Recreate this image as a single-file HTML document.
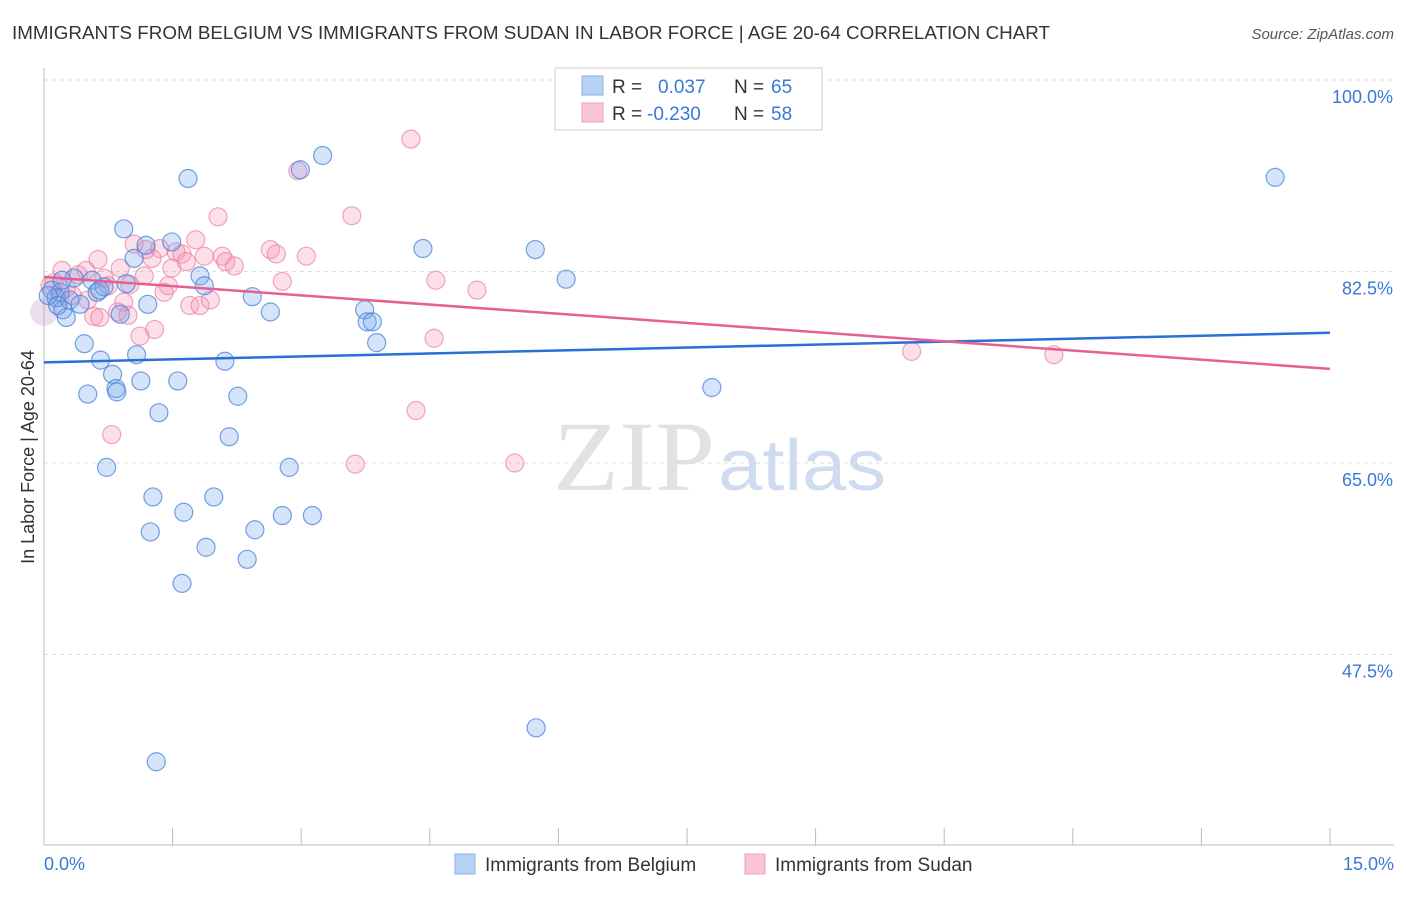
<!DOCTYPE html>
<html><head><meta charset="utf-8"><style>
body{margin:0;background:#fff;font-family:"Liberation Sans",sans-serif;}
svg text{font-family:"Liberation Sans",sans-serif;}
</style></head><body>
<svg id="chart" width="1406" height="892" xmlns="http://www.w3.org/2000/svg">
<text x="12" y="39" font-size="18" fill="#333" textLength="1038" lengthAdjust="spacingAndGlyphs">IMMIGRANTS FROM BELGIUM VS IMMIGRANTS FROM SUDAN IN LABOR FORCE | AGE 20-64 CORRELATION CHART</text>
<text x="1394" y="39" font-size="15" fill="#555" font-style="italic" text-anchor="end">Source: ZipAtlas.com</text>
<text x="553" y="490" font-size="100" fill="#e2e2e2" style="font-family:'Liberation Serif',serif" textLength="162" lengthAdjust="spacingAndGlyphs">ZIP</text>
<text x="718" y="490" font-size="72" fill="#cfdcf0" textLength="168" lengthAdjust="spacingAndGlyphs">atlas</text>
<g id="grid"></g>
<line x1="44" y1="68" x2="44" y2="845" stroke="#bbb"/>
<line x1="44" y1="845" x2="1394" y2="845" stroke="#bbb"/>
<text transform="translate(34,457) rotate(-90)" font-size="18" fill="#333" text-anchor="middle">In Labor Force | Age 20-64</text>
<g id="pts"></g>
<g id="lines"></g>
<g>
<rect x="555" y="68" width="267" height="62" fill="#fff" stroke="#ccc"/>
<rect x="582" y="76" width="21" height="19" fill="#b8d2f5" stroke="#8ab0e8"/>
<rect x="582" y="103" width="21" height="19" fill="#f9c4d4" stroke="#eea0b8"/>
<text x="612" y="93" font-size="19" fill="#333">R = </text><text x="658" y="93" font-size="19" fill="#3a78d8">0.037</text>
<text x="734" y="93" font-size="19" fill="#333">N = </text><text x="771" y="93" font-size="19" fill="#3a78d8">65</text>
<text x="612" y="120" font-size="19" fill="#333">R = </text><text x="647" y="120" font-size="19" fill="#3a78d8">-0.230</text>
<text x="734" y="120" font-size="19" fill="#333">N = </text><text x="771" y="120" font-size="19" fill="#3a78d8">58</text>
</g>
<g>
<rect x="455" y="854" width="20" height="20" fill="#b8d2f5" stroke="#8ab0e8"/>
<text x="485" y="871" font-size="19" fill="#333">Immigrants from Belgium</text>
<rect x="745" y="854" width="20" height="20" fill="#f9c4d4" stroke="#eea0b8"/>
<text x="775" y="871" font-size="19" fill="#333">Immigrants from Sudan</text>
</g>
</svg>
<script>
const yTicks=[100,82.5,65,47.5];
const yTickLabels=["100.0%","82.5%","65.0%","47.5%"];
const xTicks=[0,1.5,3,4.5,6,7.5,9,10.5,12,13.5,15];
const xEndLabels=["0.0%","15.0%"];
const belgiumX=[0.09,0.14,0.19,0.22,0.26,0.30,0.35,0.42,0.47,0.51,0.56,0.62,0.66,0.70,0.73,0.80,0.84,0.85,0.89,0.93,0.96,1.05,1.08,1.13,1.19,1.21,1.24,1.27,1.31,1.34,1.49,1.56,1.61,1.63,1.68,1.82,1.87,1.89,1.98,2.11,2.16,2.26,2.37,2.43,2.46,2.64,2.78,2.86,2.99,3.13,3.25,3.74,3.77,3.83,3.88,4.42,5.73,5.74,6.09,7.79,14.36,0.05,0.16,0.65,0.21];
const belgiumY=[80.8,80.1,80.6,79.0,78.3,79.9,81.9,79.5,75.9,71.3,81.7,80.6,74.4,81.1,64.6,73.1,71.8,71.5,78.6,86.4,81.4,83.7,74.9,72.5,84.9,79.5,58.7,61.9,37.7,69.6,85.2,72.5,54.0,60.5,91.0,82.1,81.2,57.3,61.9,74.3,67.4,71.1,56.2,80.2,58.9,78.8,60.2,64.6,91.8,60.2,93.1,79.0,77.9,77.9,76.0,84.6,84.5,40.8,81.8,71.9,91.1,80.3,79.4,80.8,81.7];
const sudanX=[0.07,0.12,0.19,0.26,0.33,0.40,0.49,0.58,0.63,0.70,0.75,0.79,0.86,0.89,0.93,0.98,1.05,1.12,1.17,1.19,1.26,1.29,1.35,1.40,1.45,1.49,1.54,1.61,1.66,1.70,1.77,1.82,1.87,1.94,2.03,2.08,2.12,2.22,2.64,2.71,2.78,2.96,3.06,3.59,3.63,4.28,4.34,4.55,4.57,5.05,5.49,10.12,11.78,0.21,0.51,0.65,1.00];
const sudanY=[81.2,81.5,80.1,81.0,80.3,82.2,82.6,78.4,83.6,81.9,81.2,67.6,78.8,82.8,79.7,78.5,85.0,76.6,82.1,84.5,83.7,77.2,84.6,80.6,81.2,82.8,84.3,84.1,83.4,79.4,85.4,79.4,83.9,79.9,87.5,83.9,83.4,83.0,84.5,84.1,81.6,91.7,83.9,87.6,64.9,94.6,69.8,76.4,81.7,80.8,65.0,75.2,74.9,82.6,79.9,78.3,81.3];
const belgiumTrend=[74.2,76.9];
const sudanTrend=[82.0,73.6];
const NS='http://www.w3.org/2000/svg';
function xs(v){return 44+v/15*1286;}
function ys(v){return 80+(100-v)*10.943;}
function mk(tag,attrs,parent){const e=document.createElementNS(NS,tag);for(const k in attrs)e.setAttribute(k,attrs[k]);parent.appendChild(e);return e;}
const grid=document.getElementById('grid');
yTicks.forEach((t,i)=>{
 const l=mk('line',{x1:44,x2:1394,y1:ys(t),y2:ys(t),stroke:'#ddd','stroke-dasharray':'4,4'},grid);
 
 
 const tx=mk('text',{x:1393,y:ys(t)+23,'font-size':18,fill:'#3a78d8','text-anchor':'end'},grid);
 tx.textContent=yTickLabels[i];
 
 
});
xTicks.forEach(t=>{
 const l=mk('line',{x1:xs(t),x2:xs(t),y1:828,y2:845,stroke:'#bbb'},grid);
 
 
});
[[0,'start'],[15,'end']].forEach((p,i)=>{
 const tx=mk('text',{x:i?1394:44,y:870,'font-size':18,fill:'#3a78d8','text-anchor':p[1]},grid);
 tx.textContent=xEndLabels[i];
 
 
});
const pts=document.getElementById('pts');
sudanX.forEach((x,i)=>{
 const c=mk('circle',{cx:xs(x),cy:ys(sudanY[i]),r:9,fill:'rgba(244,150,180,0.3)',stroke:'rgba(232,130,165,0.7)','stroke-width':1.2},pts);
 
 
});
const big=mk('circle',{cx:xs(0),cy:ys(78.8),r:14,fill:'rgba(200,160,200,0.35)',stroke:'none'},pts);


belgiumX.forEach((x,i)=>{
 const c=mk('circle',{cx:xs(x),cy:ys(belgiumY[i]),r:9,fill:'rgba(120,165,235,0.3)',stroke:'rgba(70,130,220,0.75)','stroke-width':1.2},pts);
 
 
});
const lines=document.getElementById('lines');
const bl=mk('line',{x1:xs(0),x2:xs(15),y1:ys(belgiumTrend[0]),y2:ys(belgiumTrend[1]),stroke:'#2a6fd6','stroke-width':2.5},lines);


const sl=mk('line',{x1:xs(0),x2:xs(15),y1:ys(sudanTrend[0]),y2:ys(sudanTrend[1]),stroke:'#e4608e','stroke-width':2.5},lines);


</script>
</body></html>
